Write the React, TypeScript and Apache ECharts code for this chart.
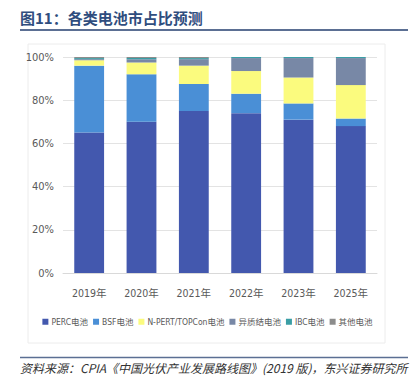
import React, { useEffect, useRef } from "react";
import * as echarts from "echarts";

const categories = ["2019年", "2020年", "2021年", "2022年", "2023年", "2025年"];
const perc = [65, 70, 75, 74, 71, 68];
const bsf = [31, 22, 12.5, 9, 7.5, 3.5];
const npert = [2.5, 5.5, 8.5, 10.5, 12, 15.5];
const hjt = [0.5, 1.5, 3, 6, 9, 12.5];
const ibc = [0.5, 0.5, 0.5, 0.5, 0.5, 0.5];
const other = [0.5, 0.5, 0.5, 0, 0, 0];

const seriesNames = ["PERC电池", "BSF电池", "N-PERT/TOPCon电池", "异质结电池", "IBC电池", "其他电池"];
const seriesData = [perc, bsf, npert, hjt, ibc, other];
const colors = ["#4358ae", "#4a8fd6", "#fbfb7e", "#7888a6", "#3a9ea5", "#8c8c8c"];

const title = "图11：各类电池市占比预测";
const source = "资料来源：CPIA《中国光伏产业发展路线图》(2019 版)，东兴证券研究所";

export default function App() {
  const ref = useRef<HTMLDivElement>(null);
  useEffect(() => {
    if (!ref.current) return;
    const chart = echarts.init(ref.current, null, { renderer: "svg" });
    chart.setOption({
      animation: false,
      backgroundColor: "#ffffff",
      grid: { left: 63, right: 38, top: 57, bottom: 106 },
      xAxis: {
        type: "category",
        data: categories,
        axisLine: { lineStyle: { color: "#d9d9d9" } },
        axisTick: { show: false },
        axisLabel: { color: "#595959", fontSize: 10.5, margin: 15, fontFamily: "'DejaVu Sans Condensed', 'Noto Sans CJK SC'" },
      },
      yAxis: {
        type: "value",
        min: 0,
        max: 100,
        interval: 20,
        axisLine: { show: false },
        axisTick: { show: false },
        splitLine: { lineStyle: { color: "#e3e3e3" } },
        axisLabel: { color: "#595959", fontSize: 11, margin: 9, formatter: "{value}%", fontFamily: "'DejaVu Sans Condensed', 'Noto Sans'" },
      },
      legend: {
        bottom: 48,
        left: "center",
        itemWidth: 6,
        itemHeight: 6,
        itemGap: 5,
        icon: "rect",
        textStyle: { color: "#595959", fontSize: 8.5, fontFamily: "'DejaVu Sans Condensed', 'Noto Sans CJK SC'", padding: [0, 0, 0, -2] },
        data: seriesNames,
      },
      series: seriesNames.map((name, i) => ({
        name,
        type: "bar",
        stack: "total",
        barWidth: "57%",
        data: seriesData[i],
        itemStyle: { color: colors[i] },
      })),
      graphic: [
        {
          type: "text",
          left: 20,
          top: 10,
          style: { text: title, fill: "#2f4d7e", fontSize: 15, fontWeight: "bold", fontFamily: "Noto Sans CJK SC" },
        },
        {
          type: "line",
          shape: { x1: 20, y1: 30, x2: 408, y2: 30 },
          style: { stroke: "#5b6f93", lineWidth: 2 },
        },
        {
          type: "rect",
          shape: { x: 28, y: 44, width: 357, height: 299 },
          style: { fill: "none", stroke: "#ececec", lineWidth: 1 },
          silent: true,
        },
        {
          type: "line",
          shape: { x1: 20, y1: 357.5, x2: 408, y2: 357.5 },
          style: { stroke: "#5b6f93", lineWidth: 1.5 },
        },
        {
          type: "text",
          left: 20,
          top: 361,
          style: { text: source, fill: "#333333", fontSize: 12, fontStyle: "italic", fontFamily: "Noto Sans CJK SC" },
        },
      ],
    });
    return () => chart.dispose();
  }, []);
  return <div ref={ref} style={{ position: "fixed", left: 0, top: 0, width: 415, height: 379 }} />;
}
